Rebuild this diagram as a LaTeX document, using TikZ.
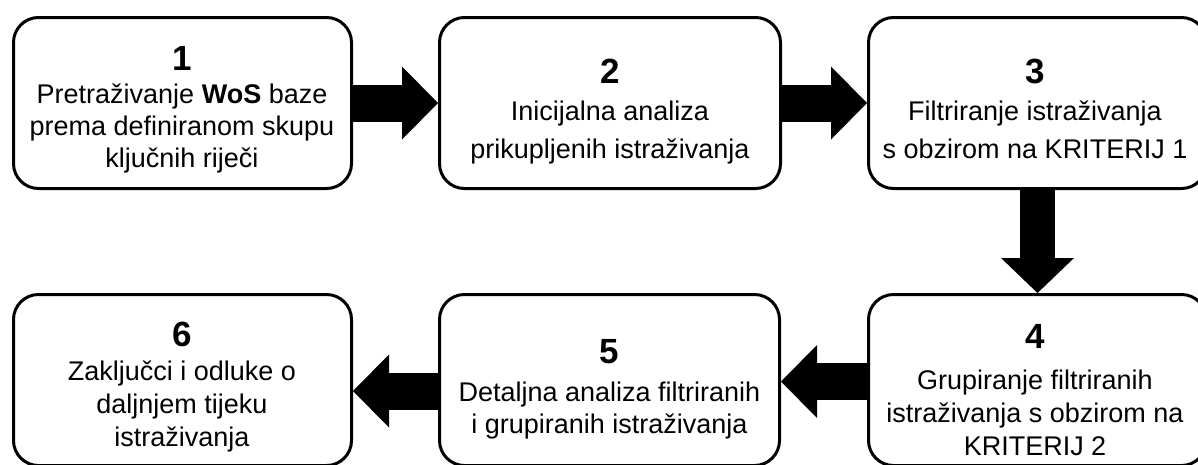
\documentclass[tikz,border=0pt]{standalone}
\usepackage{fontspec}
\setmainfont{Liberation Sans}
\usetikzlibrary{arrows.meta,calc}
\begin{document}
\begin{tikzpicture}[x=1pt,y=-1pt,
  stepbox/.style={draw, line width=3pt, rounded corners=25pt, minimum width=338pt, minimum height=171pt, inner sep=0pt, fill=white},
  boxtext/.style={align=center, inner sep=0pt, anchor=north, font=\fontsize{27}{32}\selectfont},
  fat/.style={line width=37pt, -{Triangle[length=36pt 0 0, width=73pt 0 0, line width=0pt]}},
  fatdown/.style={line width=35pt, -{Triangle[length=35pt 0 0, width=73pt 0 0, line width=0pt]}}]
\useasboundingbox (0,0) rectangle (1198,464);
\clip (0,0) rectangle (1198,464);
\newcommand{\digit}[1]{{\fontsize{35}{35}\selectfont\bfseries #1}}
% boxes
\node[stepbox] (b1) at (182.5,103) {};
\node[stepbox, minimum width=341pt] (b2) at (610,103) {};
\node[stepbox] (b3) at (1037.5,103) {};
\node[stepbox] (b4) at (1037.5,380) {};
\node[stepbox, minimum width=340pt] (b5) at (609.5,380) {};
\node[stepbox] (b6) at (182.5,380) {};
% texts
\node[boxtext] (t1) at (182,46) {\digit{1}\\[1pt] Pretraživanje \textbf{WoS} baze\\ prema definiranom skupu\\ ključnih riječi};
\node[boxtext] (t2) at (610,59) {\digit{2}\\[5pt] Inicijalna analiza\\[6pt] prikupljenih istraživanja};
\node[boxtext] (t3) at (1035,59) {\digit{3}\\[5pt] Filtriranje istraživanja\\[6pt] s obzirom na KRITERIJ 1};
\node[boxtext] (t4) at (1035,324) {\digit{4}\\[9pt] Grupiranje filtriranih\\[1pt] istraživanja s obzirom na\\[1pt] KRITERIJ 2};
\node[boxtext] (t5) at (609.5,339) {\digit{5}\\[6pt] Detaljna analiza filtriranih\\ i grupiranih istraživanja};
\node[boxtext] (t6) at (182,322) {\digit{6}\\[2pt] Zaključci i odluke o\\[1pt] daljnjem tijeku\\[1pt] istraživanja};
% connectors
\draw[fat] (b1.east) -- (b2.west);
\draw[fat] (b2.east) -- (b3.west);
\draw[fatdown] (b3.south) -- (b4.north);
\draw[fat] ([yshift=-1.5pt]b4.west) -- ([yshift=-1.5pt]b5.east);
\draw[fat] ([yshift=-11pt]b5.west) -- ([yshift=-11pt]b6.east);
\end{tikzpicture}
\end{document}
